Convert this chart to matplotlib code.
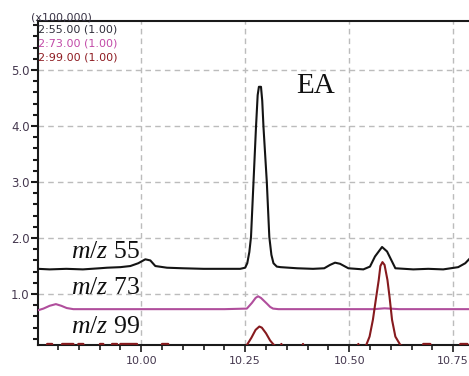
import matplotlib
matplotlib.use("Agg")
import matplotlib.pyplot as plt
from matplotlib.ticker import FixedLocator, MultipleLocator, FormatStrFormatter

# Extracted-ion chromatograms: retention time (min) vs intensity (x100,000)
t_mz55 = [9.752, 9.78, 9.82, 9.86, 9.90, 9.918, 9.95, 9.974, 9.993, 10.01, 10.022,
          10.034, 10.062, 10.10, 10.15, 10.20, 10.238, 10.25, 10.255, 10.260, 10.264,
          10.270, 10.276, 10.280, 10.283, 10.288, 10.291, 10.294, 10.302, 10.308,
          10.313, 10.318, 10.326, 10.335, 10.375, 10.413, 10.44, 10.454, 10.466,
          10.478, 10.498, 10.534, 10.55, 10.562, 10.579, 10.591, 10.603, 10.611,
          10.654, 10.69, 10.726, 10.762, 10.779, 10.788]
i_mz55 = [1.45, 1.44, 1.45, 1.44, 1.46, 1.47, 1.48, 1.50, 1.55, 1.62, 1.60,
          1.50, 1.47, 1.46, 1.45, 1.45, 1.45, 1.47, 1.55, 1.75, 2.02,
          3.00, 3.98, 4.55, 4.70, 4.70, 4.45, 3.98, 3.00, 2.02,
          1.70, 1.55, 1.49, 1.48, 1.46, 1.45, 1.46, 1.52, 1.56,
          1.54, 1.46, 1.44, 1.49, 1.67, 1.84, 1.76, 1.58, 1.46,
          1.44, 1.45, 1.44, 1.48, 1.55, 1.62]

t_mz73 = [9.752, 9.765, 9.78, 9.795, 9.808, 9.821, 9.837, 9.90, 10.00, 10.10, 10.20,
          10.254, 10.266, 10.275, 10.281, 10.288, 10.295, 10.302, 10.310, 10.317,
          10.33, 10.40, 10.50, 10.56, 10.585, 10.62, 10.70, 10.788]
i_mz73 = [0.71, 0.74, 0.79, 0.82, 0.79, 0.75, 0.73, 0.73, 0.73, 0.73, 0.73,
          0.74, 0.84, 0.93, 0.96, 0.93, 0.88, 0.83, 0.77, 0.74,
          0.73, 0.73, 0.73, 0.73, 0.745, 0.73, 0.73, 0.73]

t_mz99 = [9.752, 9.772, 9.774, 9.786, 9.788, 9.808, 9.810, 9.837, 9.839, 9.847,
          9.849, 9.861, 9.863, 9.899, 9.901, 9.909, 9.911, 9.928, 9.930, 9.942,
          9.944, 9.948, 9.950, 9.990, 9.992, 10.048, 10.050, 10.065, 10.067,
          10.20, 10.250, 10.255, 10.265, 10.275, 10.284, 10.290, 10.300, 10.310,
          10.318, 10.325, 10.334, 10.337, 10.340, 10.386, 10.389, 10.392, 10.50,
          10.519, 10.522, 10.525, 10.535, 10.541, 10.549, 10.557, 10.565, 10.571,
          10.575, 10.580, 10.585, 10.592, 10.597, 10.603, 10.611, 10.623, 10.635,
          10.676, 10.678, 10.695, 10.697, 10.765, 10.767, 10.784, 10.788]
i_mz99 = [0.05, 0.05, 0.11, 0.11, 0.05, 0.05, 0.11, 0.11, 0.05, 0.05,
          0.11, 0.11, 0.05, 0.05, 0.11, 0.11, 0.05, 0.05, 0.11, 0.11,
          0.05, 0.05, 0.11, 0.11, 0.05, 0.05, 0.11, 0.11, 0.05,
          0.05, 0.06, 0.10, 0.22, 0.36, 0.42, 0.40, 0.30, 0.17,
          0.10, 0.06, 0.05, 0.11, 0.05, 0.05, 0.11, 0.05, 0.05,
          0.05, 0.11, 0.05, 0.05, 0.09, 0.24, 0.54, 0.95, 1.25,
          1.50, 1.57, 1.52, 1.25, 0.95, 0.54, 0.24, 0.09, 0.05,
          0.05, 0.11, 0.11, 0.05, 0.05, 0.11, 0.11, 0.05]

x_ticks = [10.00, 10.25, 10.50, 10.75]
y_ticks = [1.0, 2.0, 3.0, 4.0, 5.0]
trace_labels = ["55", "73", "99"]
header_lines = ["2:55.00 (1.00)", "2:73.00 (1.00)", "2:99.00 (1.00)"]
header_colors = ["#2e2e3a", "#c24aa8", "#8e1c22"]
trace_colors = ["#141414", "#b04e9c", "#861a1e"]

plt.rcParams["mathtext.fontset"] = "custom"
plt.rcParams["mathtext.it"] = "Liberation Serif:italic"
plt.rcParams["mathtext.rm"] = "Liberation Serif"

fig = plt.figure(figsize=(4.69, 3.76), dpi=100)
ax = fig.add_axes([38 / 469, 1 - 345 / 376, 431 / 469, 324 / 376])
ax.set_xlim(9.752, 10.788)
ax.set_ylim(0.09, 5.875)

grid_style = dict(color="#bcbcbc", lw=1.0, ls=(0, (4, 3)), zorder=0)
for xv in x_ticks:
    ax.axvline(xv, **grid_style)
for yv in y_ticks:
    ax.axhline(yv, **grid_style)

series = [(t_mz55, i_mz55), (t_mz73, i_mz73), (t_mz99, i_mz99)]
for (tt, ii), col in zip(series, trace_colors):
    ax.plot(tt, ii, color=col, lw=1.5, zorder=4)

ax.spines["right"].set_visible(False)
for side in ("left", "bottom", "top"):
    ax.spines[side].set_linewidth(1.5)
    ax.spines[side].set_color("#1a1a1a")
    ax.spines[side].set_zorder(3)

ax.xaxis.set_major_locator(FixedLocator(x_ticks))
ax.xaxis.set_minor_locator(MultipleLocator(0.05))
ax.yaxis.set_major_locator(FixedLocator(y_ticks))
ax.yaxis.set_minor_locator(MultipleLocator(0.2))
ax.xaxis.set_major_formatter(FormatStrFormatter("%.2f"))
ax.yaxis.set_major_formatter(FormatStrFormatter("%.1f"))
ax.tick_params(axis="x", which="major", direction="out", length=5, width=1.2,
               pad=3, labelsize=8, labelcolor="#45384f", color="#1a1a1a")
ax.tick_params(axis="x", which="minor", direction="out", length=3.5, width=1.2,
               color="#1a1a1a")
ax.tick_params(axis="y", which="major", direction="out", length=5, width=1.5,
               pad=1, labelsize=8.5, labelcolor="#45384f", color="#1a1a1a")
ax.tick_params(axis="y", which="minor", direction="out", length=3.5, width=1.5,
               color="#1a1a1a")

# Header: scale factor and ion channel legend
fig.text(31 / 469, 1 - 17 / 376, "(x100,000)", fontsize=8, color="#3a3446",
         ha="left", va="center", family="DejaVu Sans")
for k, (txt, col) in enumerate(zip(header_lines, header_colors)):
    fig.text(38 / 469, 1 - (29 + 14 * k) / 376, txt, fontsize=8, color=col,
             ha="left", va="center", family="DejaVu Sans")

# Trace labels
label_base = [1.64, 1.0, 0.30]
for lab, yb in zip(trace_labels, label_base):
    ax.text(9.997, yb, r"$m/z$ " + lab, fontsize=18.5, family="Liberation Serif",
            ha="right", va="baseline", color="#111111", zorder=5)

ax.text(10.373, 4.59, "EA", fontsize=21, family="Liberation Serif",
        ha="left", va="baseline", color="#111111", zorder=5)

fig.savefig("out.png", dpi=100)
